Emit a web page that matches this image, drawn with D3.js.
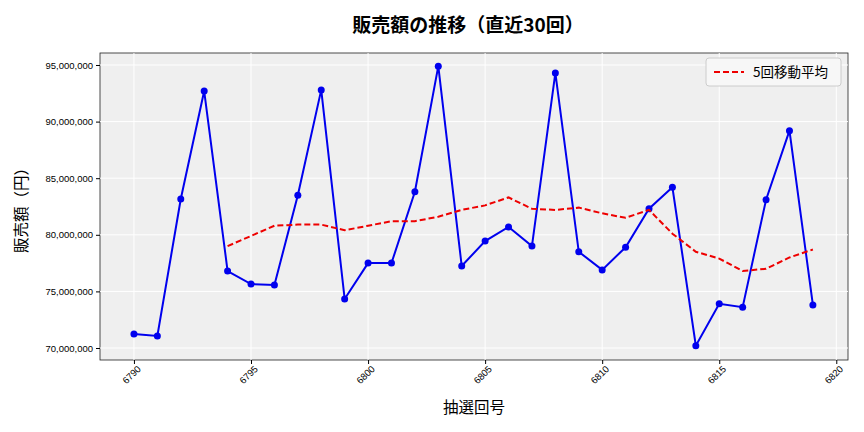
<!DOCTYPE html>
<html><head><meta charset="utf-8">
<script src="https://cdn.jsdelivr.net/npm/d3@7"></script>
<style>body{margin:0;background:#fff;font-family:"Noto Sans CJK JP","Noto Sans",sans-serif;}</style>
</head><body><div id="chart"></div>
<script>
const draws = d3.range(6790, 6820);
const sales = [71.24,71.06,83.16,92.7,76.8,75.65,75.56,83.5,92.8,74.33,77.5,77.5,83.8,94.9,77.24,79.45,80.7,79.0,94.3,78.5,76.9,78.9,82.3,84.2,70.2,73.9,73.6,83.1,89.2,73.8].map(v => v * 1e6);
const maDraws = d3.range(6794, 6820);
const ma5 = [79.0,79.9,80.8,80.9,80.9,80.4,80.8,81.2,81.2,81.6,82.2,82.6,83.3,82.3,82.2,82.4,81.9,81.5,82.2,80.1,78.5,77.9,76.8,77.0,78.0,78.7].map(v => v * 1e6);
const xTicks = [6790,6795,6800,6805,6810,6815,6820];
const yTicks = d3.range(70e6, 95e6 + 1, 5e6);

let svg = d3.select("#chart").append("svg").attr("width", 864).attr("height", 432);
let margin = {left: 100, right: 16, top: 53, bottom: 72};
let width = 864 - margin.left - margin.right;
let height = 432 - margin.top - margin.bottom;

let x = d3.scaleLinear().domain([6788.55, 6820.5]).range([margin.left, margin.left + width]);
let y = d3.scaleLinear().domain([68.94e6, 96.06e6]).range([margin.top + height, margin.top]);

svg.append("rect").attr("x", margin.left).attr("y", margin.top).attr("width", width).attr("height", height)
    .attr("fill", "#efefef").attr("stroke", "#222").attr("stroke-width", 0.8);

// grid
svg.append("g").selectAll("line").data(xTicks).join("line")
    .attr("x1", d => x(d)).attr("x2", d => x(d)).attr("y1", margin.top).attr("y2", margin.top + height)
    .attr("stroke", "#fff").attr("stroke-width", 1);
svg.append("g").selectAll("line").data(yTicks).join("line")
    .attr("x1", margin.left).attr("x2", margin.left + width).attr("y1", d => y(d)).attr("y2", d => y(d))
    .attr("stroke", "#fff").attr("stroke-width", 1);

// axes
let xAxis = svg.append("g").attr("transform", `translate(0,${margin.top + height})`)
    .call(d3.axisBottom(x).tickValues(xTicks).tickFormat(d3.format("d")).tickSize(4));
xAxis.select(".domain").remove();
xAxis.selectAll("text").attr("font-size", 9.5).attr("fill", "#000").attr("text-anchor", "end")
    .attr("transform", "rotate(-45)").attr("dx", "-0.2em").attr("dy", "0.5em");
let yAxis = svg.append("g").attr("transform", `translate(${margin.left},0)`)
    .call(d3.axisLeft(y).tickValues(yTicks).tickFormat(d3.format(",")).tickSize(4));
yAxis.select(".domain").remove();
yAxis.selectAll("text").attr("font-size", 9.5).attr("fill", "#000");

// sales line
svg.append("path").datum(draws.map((d, i) => [d, sales[i]]))
    .attr("fill", "none").attr("stroke", "#0000ee").attr("stroke-width", 2)
    .attr("d", d3.line().x(d => x(d[0])).y(d => y(d[1])));
svg.append("g").selectAll("circle").data(draws).join("circle")
    .attr("cx", d => x(d)).attr("cy", (d, i) => y(sales[i])).attr("r", 3.5).attr("fill", "#0000ee");

// moving average
svg.append("path").datum(maDraws.map((d, i) => [d, ma5[i]]))
    .attr("fill", "none").attr("stroke", "#ee0000").attr("stroke-width", 2).attr("stroke-dasharray", "6,3")
    .attr("d", d3.line().x(d => x(d[0])).y(d => y(d[1])));

// legend
svg.append("rect").attr("x", 706).attr("y", 58).attr("width", 135).attr("height", 28).attr("rx", 3)
    .attr("fill", "#f7f7f7").attr("stroke", "#ccc");
svg.append("line").attr("x1", 714).attr("x2", 744).attr("y1", 72).attr("y2", 72)
    .attr("stroke", "#ee0000").attr("stroke-width", 2).attr("stroke-dasharray", "6,3");
svg.append("text").attr("x", 753).attr("y", 77).attr("font-size", 13.5).text("5回移動平均");

// labels
svg.append("text").attr("x", 468).attr("y", 32).attr("text-anchor", "middle")
    .attr("font-size", 19).attr("font-weight", "bold").text("販売額の推移（直近30回）");
svg.append("text").attr("x", 474).attr("y", 413).attr("text-anchor", "middle")
    .attr("font-size", 15.5).text("抽選回号");
svg.append("text").attr("transform", `translate(27,${margin.top + height / 2}) rotate(-90)`)
    .attr("text-anchor", "middle").attr("font-size", 15.5).text("販売額（円）");
</script></body></html>
